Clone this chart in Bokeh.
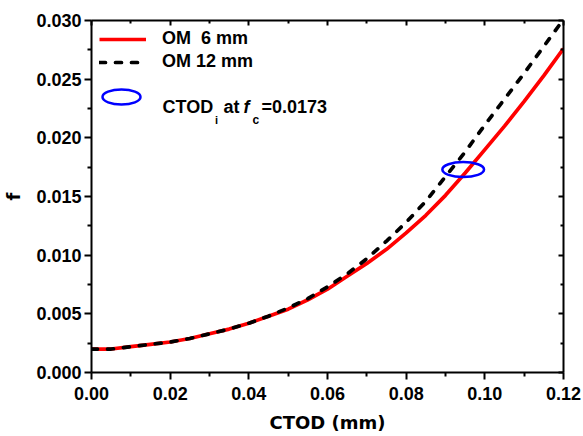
from bokeh.plotting import figure
from bokeh.models import Range1d, LinearAxis, FixedTicker, PrintfTickFormatter, Legend, LegendItem, Label
from bokeh.embed import file_html
from bokeh.resources import INLINE

# ---- data ----
ctod = [0.000, 0.005, 0.010, 0.015, 0.020, 0.025, 0.030, 0.035, 0.040, 0.045,
        0.050, 0.055, 0.060, 0.065, 0.070, 0.075, 0.080, 0.085, 0.090, 0.095,
        0.100, 0.105, 0.110, 0.115, 0.120]
f_om6 = [0.0020, 0.0020, 0.0022, 0.0024, 0.0026, 0.0029, 0.0033, 0.0037, 0.0042, 0.0048,
         0.0054, 0.0062, 0.0071, 0.0082, 0.0093, 0.0105, 0.0119, 0.0134, 0.0151, 0.0170,
         0.0190, 0.0210, 0.0231, 0.0253, 0.0276]
f_om12 = [0.0020, 0.0020, 0.0022, 0.0024, 0.0026, 0.0029, 0.0033, 0.0037, 0.0042, 0.0048,
          0.0055, 0.0063, 0.0073, 0.0084, 0.0097, 0.0112, 0.0128, 0.0146, 0.0167, 0.0188,
          0.0211, 0.0233, 0.0255, 0.0278, 0.0301]
ctod_i = [0.0945]
f_c = [0.0173]

x_ticks = [0.00, 0.02, 0.04, 0.06, 0.08, 0.10, 0.12]
x_minor = [0.01, 0.03, 0.05, 0.07, 0.09, 0.11]
y_ticks = [0.000, 0.005, 0.010, 0.015, 0.020, 0.025, 0.030]
y_minor = [0.0025, 0.0075, 0.0125, 0.0175, 0.0225, 0.0275]

X_MAX = 0.12
Y_MAX = 0.03

# ---- layout ----
W, H = 583, 436
B_LEFT, B_RIGHT, B_TOP, B_BOTTOM = 91, 20, 20, 64
FW = W - B_LEFT - B_RIGHT
FH = H - B_TOP - B_BOTTOM


def at_px(px, py):
    """convert a pixel position of the figure (from its top-left) to data units"""
    return (px - B_LEFT) / FW * X_MAX, (FH + B_TOP - py) / FH * Y_MAX


TICK_FONT = "Liberation Sans"
LABEL_FONT = "DejaVu Sans"

p = figure(width=W, height=H, x_range=Range1d(0, X_MAX), y_range=Range1d(0, Y_MAX),
           output_backend="svg", toolbar_location=None,
           min_border_left=B_LEFT, min_border_right=B_RIGHT,
           min_border_top=B_TOP, min_border_bottom=B_BOTTOM,
           x_axis_label="CTOD (mm)", y_axis_label="f")
p.grid.visible = False
p.outline_line_color = None
p.background_fill_color = "white"
p.border_fill_color = "white"

p.xaxis.ticker = FixedTicker(ticks=x_ticks, minor_ticks=x_minor)
p.yaxis.ticker = FixedTicker(ticks=y_ticks, minor_ticks=y_minor)
p.xaxis.formatter = PrintfTickFormatter(format="%.2f")
p.yaxis.formatter = PrintfTickFormatter(format="%.3f")

for ax in (p.xaxis[0], p.yaxis[0]):
    ax.axis_line_width = 2
    ax.axis_line_color = "black"
    ax.major_tick_line_width = 2
    ax.minor_tick_line_width = 2
    ax.major_tick_line_color = "black"
    ax.minor_tick_line_color = "black"
    ax.major_tick_in = 0
    ax.major_tick_out = 7
    ax.minor_tick_in = 0
    ax.minor_tick_out = 4
    ax.major_label_text_font = TICK_FONT
    ax.major_label_text_font_style = "bold"
    ax.major_label_text_font_size = "18px"
    ax.major_label_text_color = "black"
    ax.axis_label_text_font = LABEL_FONT
    ax.axis_label_text_font_style = "bold"
    ax.axis_label_text_font_size = "18px"
    ax.axis_label_text_color = "black"
p.xaxis.major_label_standoff = 7
p.xaxis.axis_label_standoff = 9
p.yaxis.major_label_standoff = 3
p.yaxis.axis_label_standoff = 9

# mirrored axes with inward ticks and no labels
for loc, ticks, minor in (("above", x_ticks, x_minor), ("right", y_ticks, y_minor)):
    ax = LinearAxis(ticker=FixedTicker(ticks=ticks, minor_ticks=minor),
                    axis_line_width=2, axis_line_color="black",
                    major_tick_line_width=2, minor_tick_line_width=2,
                    major_tick_in=5, major_tick_out=0, minor_tick_in=3, minor_tick_out=0,
                    major_label_text_color=None, major_label_text_font_size="0px",
                    major_label_standoff=0)
    p.add_layout(ax, loc)

# ---- data curves ----
r6 = p.line(ctod, f_om6, line_color="#ff0000", line_width=3.7)
r12 = p.line(ctod, f_om12, line_color="black", line_width=3.7,
             line_dash="6 10", line_cap="round")
p.ellipse(x=ctod_i, y=f_c, width=0.0106, height=0.00128,
          fill_color=None, line_color="#0000ff", line_width=2.5)

# ---- legend ----
legend = Legend(items=[LegendItem(label="OM\u00a0\u00a06 mm", renderers=[r6]),
                       LegendItem(label="OM 12 mm", renderers=[r12])],
                location="top_left", margin=8, padding=0, spacing=2,
                glyph_width=47, glyph_height=20, label_standoff=16,
                label_text_font=TICK_FONT, label_text_font_style="bold",
                label_text_font_size="18px", label_text_color="black",
                border_line_color=None, background_fill_alpha=0)
p.add_layout(legend)

# third legend row: ellipse sample + rich text
ex, ey = at_px(121, 96.5)
p.ellipse(x=[ex], y=[ey], width=38, height=15, width_units="screen", height_units="screen",
          fill_color=None, line_color="#0000ff", line_width=2.5)

pieces = [
    ("CTOD", 162, 106.7, "18px", "bold"),
    ("i", 214.5, 119, "11px", "bold"),
    ("at", 223, 106.7, "18px", "bold"),
    ("f", 243, 106.7, "18px", "bold italic"),
    ("c", 252, 119, "12px", "bold"),
    ("=0.0173", 261, 106.7, "18px", "bold"),
]
for txt, px, py, size, style in pieces:
    lx, ly = at_px(px, py)
    p.add_layout(Label(x=lx, y=ly, text=txt, text_font=TICK_FONT, text_font_size=size,
                       text_font_style=style, text_color="black",
                       text_align="left", text_baseline="alphabetic"))

open("out.html", "w").write(file_html(p, INLINE))
